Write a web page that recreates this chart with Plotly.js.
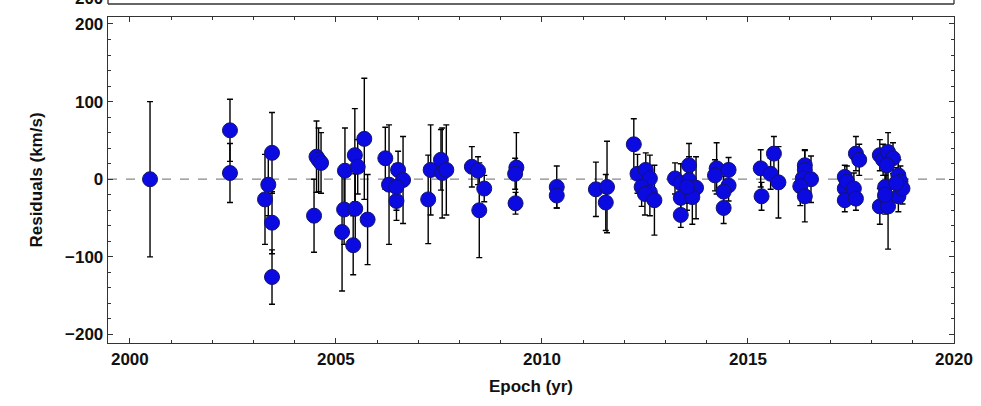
<!DOCTYPE html>
<html>
<head>
<meta charset="utf-8">
<script src="https://cdn.plot.ly/plotly-3.0.1.min.js"></script>
<style>html,body{margin:0;padding:0;background:#fff;}#chart{width:981px;height:406px;}</style>
</head>
<body>
<div id="chart"></div>
<script>
const epoch = [2000.49,2002.43,2002.43,2003.45,2003.36,2003.28,2003.45,2003.45,
  2004.53,2004.58,2004.64,2004.47,2005.22,2005.46,2005.53,2005.69,2005.20,2005.47,2005.15,2005.42,2005.77,
  2006.20,2006.29,2006.51,2006.63,2006.47,2006.47,2007.24,2007.30,2007.55,2007.58,2007.68,
  2008.30,2008.45,2008.60,2008.48,2009.38,2009.35,2009.36,2010.36,2010.36,
  2011.31,2011.58,2011.55,2012.23,2012.32,2012.52,2012.62,2012.42,2012.62,2012.50,2012.73,
  2013.23,2013.37,2013.57,2013.57,2013.37,2013.37,2013.74,2013.65,2013.52,
  2014.24,2014.20,2014.53,2014.53,2014.41,2014.41,
  2015.31,2015.33,2015.55,2015.63,2015.74,
  2016.38,2016.38,2016.33,2016.53,2016.27,2016.38,
  2017.35,2017.35,2017.35,2017.40,2017.57,2017.62,2017.62,2017.70,
  2018.20,2018.28,2018.40,2018.52,2018.20,2018.33,2018.33,2018.40,2018.65,2018.70,2018.65,2018.75,2018.60,2018.37,2018.33];
const residual = [0,63,8,34,-7,-26,-56,-126,
  29,25,21,-47,11,31,16,52,-39,-38,-68,-85,-52,
  27,-7,12,-1,-28,-10,-26,12,25,8,12,
  16,11,-12,-40,15,7,-31,-10,-21,
  -13,-10,-30,45,7,12,1,-10,-17,-19,-27,
  1,-5,18,-1,-24,-46,-11,-23,-10,
  14,5,12,-8,-16,-37,
  14,-22,7,33,-4,
  18,12,1,0,-9,-22,
  3,-12,-27,-3,-12,-25,33,25,
  31,25,35,27,-35,-10,-22,-35,5,-3,-22,-12,-5,18,-20];
const errorBar = [100,40,38,52,40,58,40,35,
  46,41,39,47,55,60,35,78,45,45,76,38,58,
  40,77,24,56,25,30,57,58,39,58,58,
  26,18,17,61,45,20,14,27,16,
  35,59,36,33,25,22,30,25,30,27,45,
  20,25,28,30,25,16,40,35,30,
  33,20,16,20,20,20,
  24,18,20,22,46,
  20,25,22,30,25,33,
  15,20,15,20,20,15,22,20,
  20,20,25,20,23,20,20,55,20,20,20,20,20,20,25];
const xTickVals = [2000,2005,2010,2015,2020];
const yTickVals = [-200,-100,0,100,200];
const xTitle = 'Epoch (yr)';
const yTitle = 'Residuals (km/s)';
const topLabel = '\u2212200';

const tickFont = {family:'"Liberation Sans", Arial, sans-serif', size:17, weight:700, color:'#111'};
const axisCommon = {
  showgrid:false, zeroline:false, showline:true, linecolor:'#333', linewidth:1.3,
  mirror:'allticks', ticks:'inside', ticklen:5, tickwidth:1, tickcolor:'#333',
  tickfont:tickFont
};
const trace = {
  x: epoch, y: residual, type:'scatter', mode:'markers',
  error_y:{type:'data', array:errorBar, visible:true, color:'#000', thickness:1.4, width:3},
  marker:{size:15, color:'rgb(10,10,225)', line:{color:'rgb(20,20,110)', width:1}},
  hoverinfo:'skip'
};
const layout = {
  width:981, height:406,
  margin:{l:108, r:27, t:17, b:63},
  paper_bgcolor:'#fff', plot_bgcolor:'#fff',
  showlegend:false,
  xaxis:Object.assign({}, axisCommon, {
    range:[1999.47,2020.0], tickvals:xTickVals, ticktext:xTickVals.map(String),
    minor:{dtick:1, tick0:2000, ticks:'inside', ticklen:3, tickcolor:'#333', tickwidth:1},
    title:{text:xTitle, font:{family:'"Liberation Sans", Arial, sans-serif', size:17, weight:700, color:'#111'}, standoff:12}
  }),
  yaxis:Object.assign({}, axisCommon, {
    range:[-211,209], tickvals:yTickVals, ticktext:yTickVals.map(v=>v<0?'\u2212'+Math.abs(v):String(v)),
    minor:{dtick:20, tick0:0, ticks:'inside', ticklen:3, tickcolor:'#333', tickwidth:1},
    title:{text:yTitle, font:{family:'"Liberation Sans", Arial, sans-serif', size:17, weight:700, color:'#111'}, standoff:18}
  }),
  shapes:[
    {type:'line', xref:'paper', yref:'y', x0:0, x1:1, y0:0, y1:0, line:{color:'#888', width:1.2, dash:'dash'}, layer:'below'},
    {type:'line', xref:'paper', yref:'paper', x0:0, x1:1, y0:1.0399, y1:1.0399, line:{color:'#333', width:1.3}},
    {type:'line', xref:'paper', yref:'paper', x0:0, x1:0, y0:1.0399, y1:1.08, line:{color:'#333', width:1.3}},
    {type:'line', xref:'paper', yref:'paper', x0:1, x1:1, y0:1.0399, y1:1.08, line:{color:'#333', width:1.3}}
  ],
  annotations:[
    {xref:'paper', yref:'paper', x:0, y:1.058, xanchor:'right', yanchor:'middle', xshift:-3,
     text:topLabel, showarrow:false, font:tickFont}
  ]
};
Plotly.newPlot('chart', [trace], layout, {displayModeBar:false, staticPlot:true});
</script>
</body>
</html>
